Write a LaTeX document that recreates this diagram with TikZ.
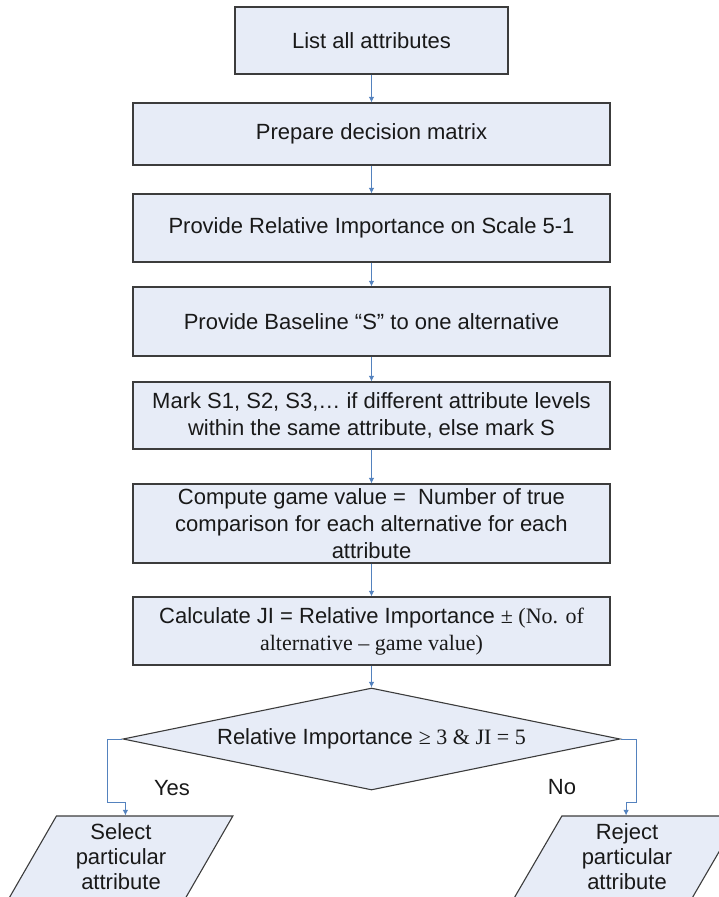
\documentclass[tikz,border=0pt]{standalone}
\usepackage{fontspec}
\setmainfont{Liberation Sans}
\newfontfamily\tnr{Liberation Serif}
\usetikzlibrary{shapes.geometric}
\usetikzlibrary{arrows.meta}
\usetikzlibrary{calc}

\definecolor{boxfill}{RGB}{231,236,247}
\definecolor{boxline}{RGB}{60,60,60}
\definecolor{flowblue}{RGB}{84,130,190}
\definecolor{txt}{RGB}{25,25,25}

\tikzset{
  stepbox/.style={draw=boxline, fill=boxfill, line width=1.1bp, inner sep=0pt,
    align=center, text=txt, font=\fontsize{22bp}{27bp}\selectfont},
  wide/.style={minimum width=477bp},
  decbox/.style={stepbox, shape=diamond, aspect=4.87, minimum width=497bp, minimum height=102bp},
  outbox/.style={stepbox, trapezium, trapezium left angle=63.4,
    trapezium right angle=116.6, trapezium stretches=true, minimum height=82bp,
    font=\fontsize{22bp}{25bp}\selectfont},
  lbl/.style={text=txt, font=\fontsize{22bp}{26bp}\selectfont, inner sep=0pt},
  flow/.style={->, draw=flowblue, line width=1bp}
}

\begin{document}
\begin{tikzpicture}[x=1bp, y=-1bp, >={Latex[length=5.5bp,width=5.5bp]}]
\useasboundingbox (0,0) rectangle (719,897);
\clip (0,0) rectangle (719,897);

\node[stepbox, minimum width=273bp, minimum height=67bp] (list) at (371.5,40.5) {List all attributes};
\node[stepbox, wide, minimum height=62bp] (dmat) at (371.5,134) {Prepare decision matrix};
\node[stepbox, wide, minimum height=68bp] (relimp) at (371.5,228) {Provide Relative Importance on Scale 5-1};
\node[stepbox, wide, minimum height=69bp] (base) at (371.5,321.5) {Provide Baseline “S” to one alternative};
\node[stepbox, wide, minimum height=67bp] (mark) at (371.5,415.5) {Mark S1, S2, S3,… if different attribute levels\\within the same attribute, else mark S};
\node[stepbox, wide, minimum height=79bp] (game) at (371.5,523.5) {Compute game value =\ \ Number of true\\comparison for each alternative for each\\attribute};
\node[stepbox, wide, minimum height=68bp] (ji) at (371.5,631) {Calculate JI = Relative Importance {\tnr ± (No. of}\\{\tnr alternative – game value)}};
\node[decbox] (dec) at (371.5,739) {Relative Importance {\tnr ≥ 3 \& JI = 5}};

\node[outbox, minimum width=224bp] (sel) at (121,857) {Select\\particular\\attribute};
\node[outbox, minimum width=226bp] (rej) at (627,857) {Reject\\particular\\attribute};

\node[lbl] (yes) at (172,788) {Yes};
\node[lbl] (no) at (562,787) {No};

% main chain
\draw[flow] (list) -- (dmat);
\draw[flow] (dmat) -- (relimp);
\draw[flow] (relimp) -- (base);
\draw[flow] (base) -- (mark);
\draw[flow] (mark) -- (game);
\draw[flow] (game) -- (ji);
\draw[flow] (ji) -- (dec);

% branches
\coordinate (ybend) at (107,802);
\coordinate (nbend) at (636,802);
\draw[flow] (dec.west) -| (ybend) -| ($(sel.top left corner)!.39!(sel.top right corner)$);
\draw[flow] (dec.east) -| (nbend) -| ($(rej.top left corner)!.36!(rej.top right corner)$);
\end{tikzpicture}
\end{document}
